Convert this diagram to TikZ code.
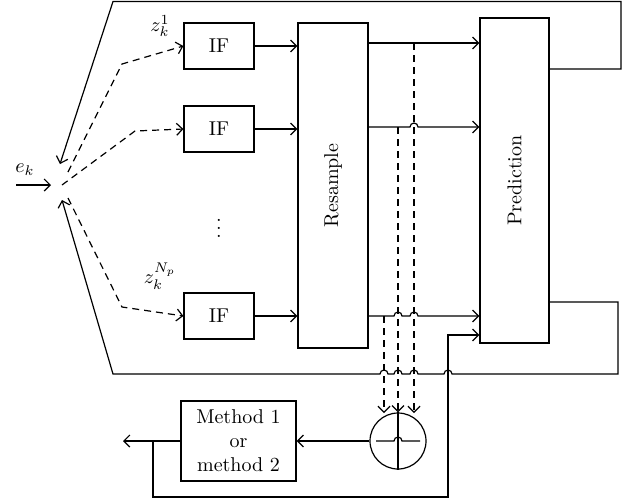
\documentclass[tikz,border=0pt]{standalone}
\usepackage{graphicx}
\usetikzlibrary{arrows.meta}

\begin{document}
\begin{tikzpicture}[x=0.5pt,y=-0.5pt,line width=0.6pt,
    box/.style={draw,inner sep=0pt,minimum width=35pt,minimum height=23pt},
    tall/.style={draw,inner sep=0pt,minimum height=162.5pt},
    arr/.style={-{Straight Barb[length=3pt,width=6pt]}},
    flow/.style={dash pattern=on 3.5pt off 2.5pt}]
  \useasboundingbox (0,0) rectangle (630,500);

  % Filter bank, resampling and prediction.
  \node[box] (if1) at (219,46) {IF};
  \node[box] (if2) at (219,129) {IF};
  \node[box] (if3) at (219,316) {IF};
  \node (dots) at (219,222) {$\vdots$};
  \node[tall,minimum width=35pt] (res) at (333,185.5) {\rotatebox{90}{Resample}};
  \node[tall,minimum width=34.5pt] (pred) at (514.5,180.5) {\rotatebox{90}{Prediction}};
  \node[draw,circle,inner sep=0pt,minimum size=28pt] (sum) at (398,441) {};
  \node[draw,align=center,inner sep=0pt,minimum width=57.5pt,minimum height=40pt]
       (meth) at (238.5,441) {Method 1\\or\\method 2};

  \node (ek) at (25,170) {$e_k$};
  \node (z1) at (160,26) {$z_k^{1}$};
  \node (zn) at (160,276) {$z_k^{N_p}$};

  \coordinate (in) at (16,185);
  \coordinate (hub) at (51,185);
  \coordinate (s1) at (68,172);
  \coordinate (s2) at (62,185);
  \coordinate (s3) at (68,198);
  \coordinate (r1) at (res.east |- 0,43);
  \coordinate (r2) at (res.east |- 0,127);
  \coordinate (r3) at (res.east |- 0,316);

  \draw[arr] (in) -- (hub);
  \draw[flow,arr] (s1) -- (122,64) -- (if1.west);
  \draw[flow,arr] (s2) -- (135,131) -- (if2.west);
  \draw[flow,arr] (s3) -- (122,307) -- (if3.west);
  \foreach \n in {1,2,3}
    \draw[arr] (if\n.east) -- (if\n.east -| res.west);

  \draw[arr] (r1) -- (r1 -| pred.west);
  \draw[arr] (r2) -- (410,127) arc[start angle=180,end angle=360,radius=4]
        -- (r2 -| pred.west);
  \draw[arr] (r3) -- (394,316) arc[start angle=180,end angle=360,radius=4]
        -- (410,316) arc[start angle=180,end angle=360,radius=4]
        -- (r3 -| pred.west);

  % Weights taken down to the summing junction.
  \coordinate (t1) at (414,413);
  \coordinate (t3) at (384,413);
  \draw[flow,arr] (r1 -| t1) -- (t1);
  \draw[flow,arr] (r2 -| sum.north) -- (sum.north);
  \draw[flow,arr] (r3 -| t3) -- (t3);
  \draw (sum.north) -- (sum.south);
  \draw (376,441) -- (394,441) arc[start angle=180,end angle=360,radius=4] -- (420,441);

  % Feedback loops from the predictor.
  \coordinate (fa) at (60,164);
  \coordinate (fb) at (62,200);
  \draw[arr] (pred.east |- 0,69) -- (621,69) -- (621,1.5) -- (113,1.5) -- (fa);
  \draw[arr] (pred.east |- 0,302) -- (618,302) -- (618,374)
        -- (452,374) arc[start angle=0,end angle=-180,radius=4]
        -- (418,374) arc[start angle=0,end angle=-180,radius=4]
        -- (402,374) arc[start angle=0,end angle=-180,radius=4]
        -- (388,374) arc[start angle=0,end angle=-180,radius=4]
        -- (113,374) -- (fb);

  \coordinate (out) at (123,441);
  \draw[arr] (sum.west) -- (meth.east);
  \draw[arr] (meth.west) -- (out);
  \draw[arr] (153,441) -- (153,497) -- (448,497) -- (448,335) -- (pred.west |- 0,335);
\end{tikzpicture}
\end{document}
